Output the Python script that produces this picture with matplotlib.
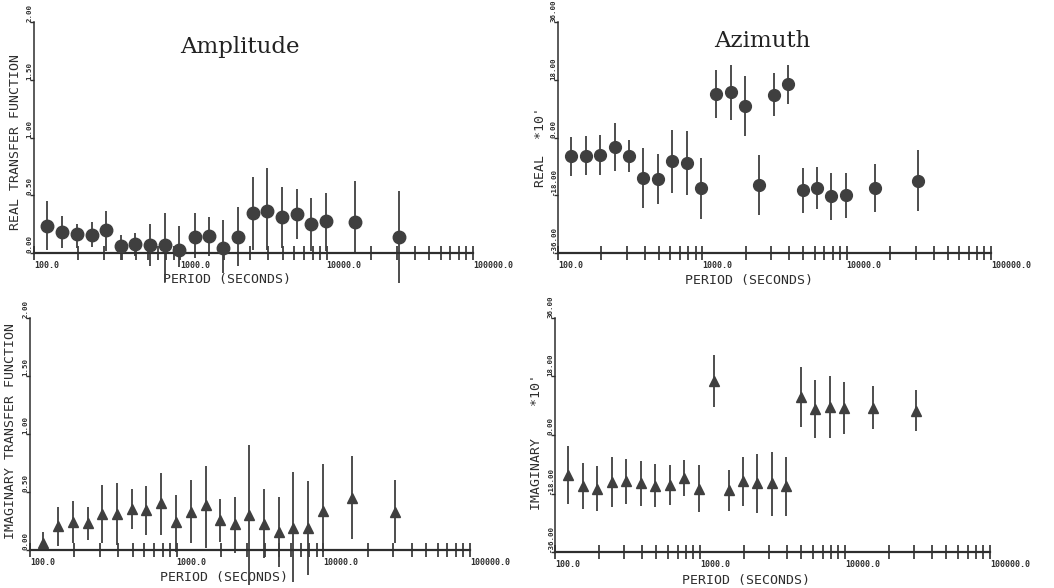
import matplotlib
matplotlib.use("Agg")
import matplotlib.pyplot as plt
from matplotlib.ticker import LogLocator, NullFormatter

# period of each estimate (seconds)
periods = [123, 156, 196, 247, 311, 391, 493, 618, 780, 985, 1250,
           1575, 1970, 2480, 3120, 3930, 4950, 6230, 7850, 9880, 15600, 31000]

# amplitude, real part: value, top and bottom of error bar
amp_real = [0.236, 0.18, 0.167, 0.16, 0.195, 0.058, 0.078, 0.072, 0.072, 0.023, 0.138,
            0.15, 0.043, 0.138, 0.345, 0.365, 0.31, 0.342, 0.25, 0.273, 0.265, 0.138]
amp_real_hi = [0.446, 0.32, 0.25, 0.27, 0.36, 0.158, 0.17, 0.25, 0.345, 0.23, 0.35,
               0.31, 0.29, 0.40, 0.66, 0.74, 0.57, 0.555, 0.48, 0.52, 0.62, 0.54]
amp_real_lo = [0.023, 0.04, 0.04, 0.05, 0.02, -0.06, -0.03, -0.115, -0.25, -0.12, -0.04,
               -0.03, -0.17, -0.115, 0.03, 0.03, 0.04, 0.12, 0.014, 0.014, 0.0, -0.26]

# amplitude, imaginary part
amp_imag = [0.058, 0.207, 0.245, 0.23, 0.31, 0.31, 0.354, 0.345, 0.403, 0.239, 0.331,
            0.388, 0.259, 0.22, 0.302, 0.22, 0.158, 0.193, 0.193, 0.337, 0.452, 0.325]
amp_imag_hi = [0.158, 0.368, 0.426, 0.374, 0.56, 0.58, 0.524, 0.555, 0.662, 0.47, 0.6,
               0.72, 0.44, 0.46, 0.906, 0.527, 0.455, 0.67, 0.596, 0.742, 0.814, 0.6]
amp_imag_lo = [0.01, 0.035, 0.063, 0.086, 0.058, 0.043, 0.178, 0.13, 0.13, -0.02, 0.058,
               0.014, 0.072, -0.03, -0.30, -0.07, -0.144, -0.28, -0.216, -0.014, 0.092, 0.058]

# azimuth, real part (*10)
azi_real = [-5.87, -5.66, -5.45, -2.96, -5.66, -12.5, -12.8, -7.4, -7.95, -15.7, 13.7,
            14.2, 9.7, -14.9, 13.1, 16.6, -16.5, -15.6, -18.3, -17.8, -15.6, -13.6]
azi_real_hi = [0.16, 0.47, 0.88, 4.6, -0.68, -3.2, -5.1, 2.2, 1.9, -6.3, 21.1,
               22.7, 19.1, -5.6, 20.1, 22.5, -9.5, -9.2, -11.0, -11.0, -8.2, -4.0]
azi_real_lo = [-12.0, -11.8, -11.8, -10.5, -10.75, -21.9, -20.6, -17.2, -18.0, -25.3, 6.2,
               5.6, 0.36, -24.3, 6.6, 10.5, -23.4, -22.2, -25.8, -25.0, -23.2, -23.0]

# azimuth, imaginary part (*10)
azi_imag = [-12.3, -15.7, -16.7, -14.6, -14.1, -14.9, -15.6, -15.4, -13.2, -16.5, 16.5,
            -17.0, -14.2, -14.9, -14.9, -15.7, 11.6, 8.0, 8.7, 8.2, 8.4, 7.5]
azi_imag_hi = [-3.3, -8.7, -9.5, -6.9, -7.4, -8.0, -9.0, -9.3, -7.7, -9.1, 24.5,
               -10.8, -6.7, -5.9, -5.3, -6.7, 20.8, 16.8, 18.3, 16.3, 15.0, 13.9]
azi_imag_lo = [-21.1, -22.8, -23.5, -22.3, -21.1, -21.9, -22.3, -21.6, -18.8, -23.7, 8.5,
               -23.4, -21.8, -23.9, -24.9, -24.9, 2.6, -0.8, -0.8, 0.2, 1.85, 1.2]

x_ticks = [100, 1000, 10000, 100000]
x_tick_labels = ["100.0", "1000.0", "10000.0", "100000.0"]
amp_ticks = [0.0, 0.5, 1.0, 1.5, 2.0]
amp_tick_labels = ["0.00", "0.50", "1.00", "1.50", "2.00"]
azi_ticks = [-36, -18, 0, 18, 36]
azi_tick_labels = ["-36.00", "-18.00", "0.00", "18.00", "36.00"]

INK = "#2e2e2e"
MARK = "#3f3f3f"
MONO = "DejaVu Sans Mono"


def style_panel(ax, ylim, yticks, ylabels, ylabel, label_pos, xlabel_pos):
    ax.set_xscale("log")
    ax.set_xlim(100, 100000)
    ax.set_ylim(*ylim)
    for side in ("top", "right"):
        ax.spines[side].set_visible(False)
    ax.spines["bottom"].set_linewidth(1.6)
    ax.spines["left"].set_linewidth(1.1)
    ax.spines["bottom"].set_color(INK)
    ax.spines["left"].set_color(INK)

    ax.set_xticks(x_ticks, labels=x_tick_labels)
    ax.xaxis.set_minor_locator(LogLocator(base=10, subs=range(2, 10)))
    ax.xaxis.set_minor_formatter(NullFormatter())
    ax.tick_params(axis="x", which="both", direction="inout", length=9.5, width=1.2,
                   color=INK, pad=1, labelsize=6, labelcolor=INK)
    plt.setp(ax.get_xticklabels(), ha="left", family=MONO, fontweight="bold")

    ax.set_yticks(yticks, labels=ylabels)
    ax.tick_params(axis="y", direction="out", length=3, width=1.0, color=INK,
                   pad=-2, labelsize=5.3, labelcolor=INK)
    plt.setp(ax.get_yticklabels(), rotation=90, rotation_mode="anchor",
             ha="left", va="bottom", family=MONO, fontweight="bold")

    ax.set_ylabel(ylabel, family=MONO, fontsize=9.5, color=INK)
    ax.yaxis.set_label_coords(*label_pos)
    ax.set_xlabel("PERIOD (SECONDS)", family=MONO, fontsize=9.5, color=INK)
    ax.xaxis.set_label_coords(*xlabel_pos)


def draw_points(ax, y, hi, lo, marker, size):
    ax.vlines(periods, lo, hi, color=MARK, linewidth=1.3, clip_on=False, zorder=2)
    ax.plot(periods, y, linestyle="none", marker=marker, markersize=size,
            color=MARK, clip_on=False, zorder=3)


fig = plt.figure(figsize=(10.54, 5.88), dpi=100)
ax_tl = fig.add_axes([0.0323, 0.5697, 0.4165, 0.3929])
ax_tr = fig.add_axes([0.5294, 0.5697, 0.4108, 0.3929])
ax_bl = fig.add_axes([0.0285, 0.0646, 0.4175, 0.3946])
ax_br = fig.add_axes([0.5266, 0.0612, 0.4127, 0.3980])

draw_points(ax_tl, amp_real, amp_real_hi, amp_real_lo, "o", 9)
draw_points(ax_tr, azi_real, azi_real_hi, azi_real_lo, "o", 8.5)
draw_points(ax_bl, amp_imag, amp_imag_hi, amp_imag_lo, "^", 6.5)
draw_points(ax_br, azi_imag, azi_imag_hi, azi_imag_lo, "^", 6.5)

style_panel(ax_tl, (0, 2), amp_ticks, amp_tick_labels, "REAL TRANSFER FUNCTION",
            (-0.028, 0.48), (0.44, -0.085))
style_panel(ax_tr, (-36, 36), azi_ticks, azi_tick_labels, "REAL  *10'",
            (-0.026, 0.46), (0.44, -0.092))
style_panel(ax_bl, (0, 2), amp_ticks, amp_tick_labels, "IMAGINARY TRANSFER FUNCTION",
            (-0.029, 0.515), (0.44, -0.092))
style_panel(ax_br, (-36, 36), azi_ticks, azi_tick_labels, "IMAGINARY    *10'",
            (-0.027, 0.47), (0.44, -0.095))

fig.text(240 / 1054, 1 - 53 / 588, "Amplitude", ha="center", va="baseline",
         family="DejaVu Serif", fontsize=16.5, color="#222222")
fig.text(762 / 1054, 1 - 47 / 588, "Azimuth", ha="center", va="baseline",
         family="DejaVu Serif", fontsize=16.5, color="#222222")

fig.savefig("out.png", dpi=100)
